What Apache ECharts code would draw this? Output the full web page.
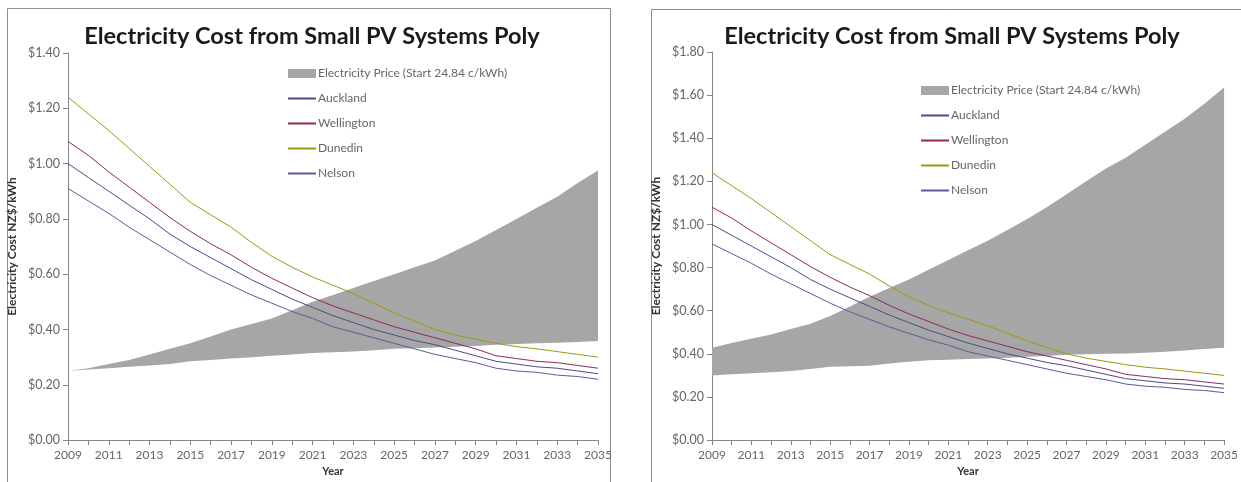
<!DOCTYPE html>
<html>
<head>
<meta charset="utf-8">
<script src="https://cdn.jsdelivr.net/npm/echarts@6/dist/echarts.min.js"></script>
<style>
  html, body { margin: 0; padding: 0; background: #fff; }
  #box { width: 1241px; height: 482px; }
</style>
</head>
<body>
<div id="box"></div>
<script>
// years on the x axis
const years = [];
for (let y = 2009; y <= 2035; y++) years.push(String(y));

// cost of PV electricity per city (NZ$/kWh), same in both panels
const auckland = [1.00,0.95,0.90,0.85,0.80,0.745,0.70,0.66,0.62,0.58,0.545,0.51,0.48,0.45,0.425,0.40,0.38,0.36,0.345,0.325,0.305,0.285,0.275,0.265,0.26,0.25,0.24];
const wellington = [1.08,1.03,0.97,0.915,0.86,0.805,0.755,0.71,0.67,0.625,0.585,0.55,0.515,0.485,0.46,0.435,0.41,0.39,0.37,0.35,0.33,0.305,0.295,0.285,0.28,0.27,0.26];
const dunedin = [1.24,1.18,1.12,1.055,0.99,0.925,0.86,0.815,0.77,0.715,0.665,0.625,0.59,0.56,0.53,0.495,0.46,0.43,0.40,0.38,0.365,0.35,0.338,0.33,0.32,0.31,0.30];
const nelson = [0.91,0.865,0.82,0.77,0.725,0.68,0.635,0.595,0.56,0.525,0.495,0.465,0.44,0.41,0.39,0.37,0.35,0.33,0.31,0.295,0.28,0.26,0.25,0.245,0.235,0.23,0.22];

// electricity price band, left panel
const priceLowA = [0.25,0.255,0.26,0.265,0.27,0.275,0.285,0.29,0.295,0.30,0.305,0.31,0.315,0.318,0.32,0.325,0.33,0.332,0.335,0.338,0.34,0.345,0.348,0.35,0.352,0.355,0.358];
const priceHighA = [0.25,0.26,0.275,0.29,0.31,0.33,0.35,0.375,0.40,0.42,0.44,0.47,0.50,0.525,0.55,0.575,0.60,0.625,0.65,0.685,0.72,0.76,0.80,0.84,0.88,0.93,0.975];

// electricity price band, right panel
const priceLowB = [0.30,0.305,0.31,0.315,0.32,0.33,0.34,0.342,0.345,0.355,0.363,0.37,0.373,0.376,0.378,0.382,0.386,0.39,0.396,0.398,0.40,0.402,0.405,0.41,0.416,0.422,0.428];
const priceHighB = [0.428,0.45,0.47,0.49,0.515,0.54,0.575,0.62,0.665,0.705,0.745,0.79,0.835,0.88,0.925,0.975,1.025,1.08,1.14,1.20,1.26,1.31,1.37,1.43,1.49,1.56,1.635];

const priceName = 'Electricity Price (Start 24.84 c/kWh)';
const cities = [
    { name: 'Auckland', data: auckland, color: '#4a4a8c' },
    { name: 'Wellington', data: wellington, color: '#8e2a5c' },
    { name: 'Dunedin', data: dunedin, color: '#9a9a10' },
    { name: 'Nelson', data: nelson, color: '#5c5c98' }
];
const fontFam = 'Lato, "Open Sans", sans-serif';

let myChart = echarts.init(document.getElementById('box'));

function xAxisFor(idx) {
    return {
        type: 'category', gridIndex: idx, data: years, boundaryGap: false,
        name: 'Year', nameLocation: 'middle', nameGap: 19,
        nameTextStyle: { fontFamily: fontFam, fontWeight: 'bold', fontSize: 11, color: '#333' },
        axisLine: { lineStyle: { color: '#868686' } },
        axisTick: { interval: 0, length: 5, lineStyle: { color: '#868686' } },
        axisLabel: { interval: 1, fontFamily: fontFam, fontSize: 12, color: '#666', margin: 9 },
        splitLine: { show: false }
    };
}
function yAxisFor(idx, max) {
    return {
        type: 'value', gridIndex: idx, min: 0, max: max, interval: 0.2,
        name: 'Electricity Cost NZ$/kWh', nameLocation: 'middle', nameGap: 50,
        nameTextStyle: { fontFamily: fontFam, fontWeight: 'bold', fontSize: 12, color: '#333' },
        axisLine: { show: true, lineStyle: { color: '#868686' } },
        axisTick: { show: true, length: 5, lineStyle: { color: '#868686' } },
        axisLabel: { fontFamily: fontFam, fontSize: 12.5, color: '#666', margin: 8,
            formatter: v => '$' + v.toFixed(2) },
        splitLine: { show: false }
    };
}
function seriesFor(idx, low, high) {
    let out = [
        { name: 'low' + idx, type: 'line', xAxisIndex: idx, yAxisIndex: idx, stack: 'band' + idx,
          data: low, symbol: 'none', lineStyle: { opacity: 0 }, silent: true, z: 1 },
        { name: priceName, type: 'line', xAxisIndex: idx, yAxisIndex: idx, stack: 'band' + idx,
          data: high.map((h, i) => +(h - low[i]).toFixed(3)), symbol: 'none',
          lineStyle: { opacity: 0 }, itemStyle: { color: '#a6a6a6' },
          areaStyle: { color: '#a6a6a6', opacity: 1 }, z: 1 }
    ];
    cities.forEach(c => {
        out.push({ name: c.name, type: 'line', xAxisIndex: idx, yAxisIndex: idx, data: c.data,
            symbol: 'none', color: c.color, lineStyle: { width: 1, color: c.color }, z: 3 });
    });
    return out;
}
function legendFor(left, top) {
    return {
        orient: 'vertical', left: left, top: top, itemWidth: 28, itemHeight: 9, itemGap: 10,
        textStyle: { fontFamily: fontFam, fontSize: 12, lineHeight: 15, color: '#666', padding: [0, 0, 0, -3] },
        data: [{ name: priceName, icon: 'rect', itemStyle: { color: '#a6a6a6' } }]
            .concat(cities.map(c => ({ name: c.name, itemStyle: { opacity: 0 } })))
    };
}

let option = {
    animation: false,
    backgroundColor: '#fff',
    title: [
        { text: 'Electricity Cost from Small PV Systems Poly', left: 307, top: 19, textAlign: 'center',
          textStyle: { fontFamily: fontFam, fontWeight: 'bold', fontSize: 23.5, color: '#1a1a1a' } },
        { text: 'Electricity Cost from Small PV Systems Poly', left: 947, top: 19, textAlign: 'center',
          textStyle: { fontFamily: fontFam, fontWeight: 'bold', fontSize: 23.5, color: '#1a1a1a' } }
    ],
    legend: [legendFor(282, 61), legendFor(915, 78)],
    grid: [
        { left: 68, right: 643, top: 53, bottom: 27 },
        { left: 712, right: 12, top: 52, bottom: 29 }
    ],
    xAxis: [xAxisFor(0), xAxisFor(1)],
    yAxis: [yAxisFor(0, 1.4), yAxisFor(1, 1.8)],
    series: seriesFor(0, priceLowA, priceHighA).concat(seriesFor(1, priceLowB, priceHighB)),
    graphic: [
        { type: 'rect', shape: { x: 7.5, y: 8.5, width: 603, height: 480 }, z: -1,
          style: { fill: null, stroke: '#8c8c8c', lineWidth: 1 } },
        { type: 'rect', shape: { x: 651.5, y: 9.5, width: 600, height: 480 }, z: -1,
          style: { fill: null, stroke: '#8c8c8c', lineWidth: 1 } }
    ]
};
myChart.setOption(option);
</script>
</body>
</html>
